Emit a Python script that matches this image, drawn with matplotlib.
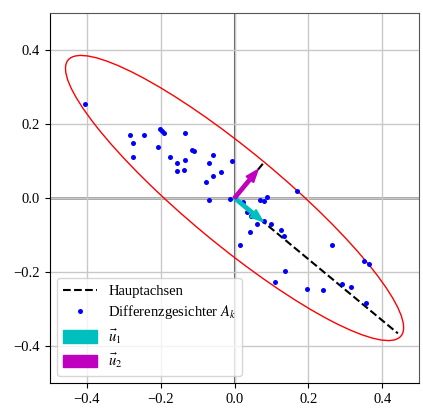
import numpy as np
import matplotlib
matplotlib.use("Agg")
import matplotlib.pyplot as plt
from matplotlib.patches import Ellipse

plt.rcParams['font.family'] = ['Liberation Serif', 'DejaVu Serif']
plt.rcParams['mathtext.fontset'] = 'stix'
plt.rcParams['font.size'] = 10.5

# data: difference faces
pts_x = [-0.404, -0.282, -0.276, -0.274, -0.245, -0.206, -0.201, -0.196, -0.190, -0.174,
         -0.157, -0.155, -0.136, -0.134, -0.133, -0.116, -0.109, -0.076, -0.068, -0.059,
         -0.058, -0.036, -0.008,
         -0.068, -0.012, 0.024, 0.034, 0.045, 0.061, 0.081, 0.099, 0.043, 0.125,
         0.134, 0.014, 0.070, 0.081, 0.089, 0.168, 0.264, 0.350, 0.364, 0.137,
         0.110, 0.195, 0.240, 0.292, 0.316, 0.356]
pts_y = [0.255, 0.169, 0.150, 0.112, 0.169, 0.138, 0.187, 0.182, 0.176, 0.110,
         0.095, 0.073, 0.075, 0.104, 0.175, 0.129, 0.127, 0.044, 0.094, 0.059,
         0.116, 0.071, 0.101,
         -0.006, -0.003, -0.010, -0.038, -0.049, -0.070, -0.061, -0.070, -0.091, -0.087,
         -0.104, -0.126, -0.005, -0.008, 0.002, 0.018, -0.127, -0.169, -0.179, -0.198,
         -0.228, -0.246, -0.249, -0.233, -0.241, -0.283]

angle_deg = -39.6          # direction of first principal axis
axis_len = [0.574, 0.12]   # lengths of dashed principal axes
ell_semi = [0.585, 0.126]  # ellipse semi-axes
arrow_scale = 0.1
ticks = [-0.4, -0.2, 0.0, 0.2, 0.4]

th = np.deg2rad(angle_deg)
u1 = np.array([np.cos(th), np.sin(th)])
u2 = np.array([-np.sin(th), np.cos(th)])

fig = plt.figure(figsize=(4.23, 4.12), dpi=100)
ax = fig.add_axes([0.118, 0.0704, 0.873, 0.898])

ax.grid(True, color='#c8c8c8', lw=1.0, zorder=0)
ax.axhline(0, color='#999999', lw=2.0, zorder=1)
ax.axvline(0, color='#5a5a5a', lw=1.5, zorder=1)

ends = np.array([axis_len[1] * u2, [0, 0], axis_len[0] * u1])
ax.plot(ends[:, 0], ends[:, 1], 'k--', lw=1.5, label='Hauptachsen', zorder=3)
ax.plot(pts_x, pts_y, 'o', color='b', ms=3.6, mec='none', ls='none',
        label='Differenzgesichter $A_k$', zorder=4)

ell = Ellipse((0, 0), 2 * ell_semi[0], 2 * ell_semi[1], angle=angle_deg,
              fill=False, edgecolor='red', lw=1.0, zorder=2)
ax.add_patch(ell)

ax.arrow(0, 0, arrow_scale * u1[0], arrow_scale * u1[1], width=0.009,
         head_width=0.026, head_length=0.035, length_includes_head=True,
         color='c', label=r'$\vec{u}_1$', zorder=5)
ax.arrow(0, 0, arrow_scale * u2[0], arrow_scale * u2[1], width=0.009,
         head_width=0.026, head_length=0.035, length_includes_head=True,
         color='m', label=r'$\vec{u}_2$', zorder=5)

ax.set_xlim(-0.5, 0.5)
ax.set_ylim(-0.5, 0.5)
ax.set_xticks(ticks)
ax.set_yticks(ticks)
for s in ['top', 'right']:
    ax.spines[s].set_color('#555555')
ax.legend(loc='lower left', labelspacing=0.35, handlelength=2.3, handleheight=0.9)

fig.savefig('out.png', dpi=100)
